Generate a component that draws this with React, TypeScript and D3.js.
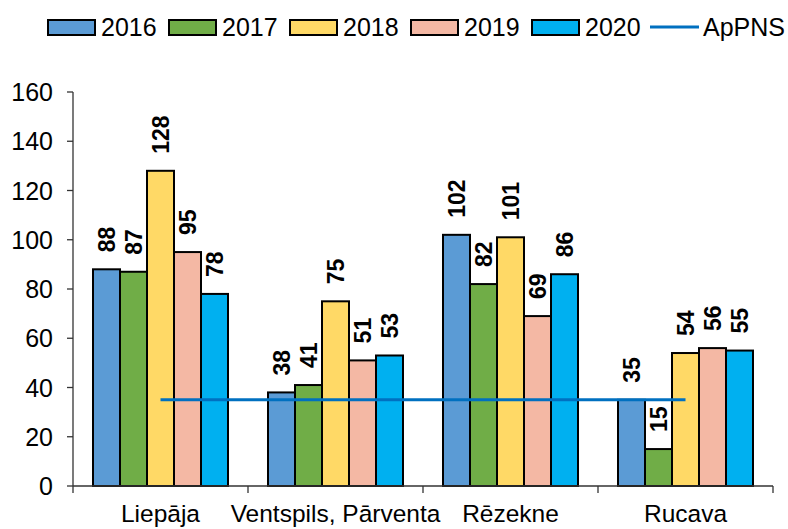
import React from "react";
import * as d3 from "d3";

const categories = ["Liepāja", "Ventspils, Pārventa", "Rēzekne", "Rucava"];
const years = ["2016", "2017", "2018", "2019", "2020"];
const values2016 = [88, 38, 102, 35];
const values2017 = [87, 41, 82, 15];
const values2018 = [128, 75, 101, 54];
const values2019 = [95, 51, 69, 56];
const values2020 = [78, 53, 86, 55];
const apPNS = [35, 35, 35, 35];
const yTicks = [0, 20, 40, 60, 80, 100, 120, 140, 160];
const colors = ["#5B9BD5", "#70AD47", "#FFD966", "#F4B8A4", "#00B0F0"];
const lineColor = "#0070C0";

const series = [values2016, values2017, values2018, values2019, values2020];

const W = 788;
const H = 529;
const FONT = "'Liberation Sans', Arial, Helvetica, sans-serif";

export default function App() {
  const x0 = 73;
  const x1 = 773;
  const y = d3.scaleLinear().domain([0, 160]).range([486, 92]);
  const xBand = d3.scaleBand<string>().domain(categories).range([x0, x1]).padding(0);
  const groupW = 135;
  const xInner = d3.scaleBand<string>().domain(years).range([0, groupW]).padding(0);
  const groupOffset = (xBand.bandwidth() - groupW) / 2;

  const line = d3
    .line<number>()
    .x((_, i) => (xBand(categories[i]) as number) + xBand.bandwidth() / 2)
    .y((d) => y(d));

  const boundaries = [...categories.map((c) => xBand(c) as number), x1];

  return (
    <svg
      width={W}
      height={H}
      style={{ position: "absolute", left: 0, top: 0, background: "#fff" }}
      fontFamily={FONT}
    >
      <rect x={0} y={0} width={W} height={H} fill="#fff" />
      {/* Legend */}
      {years.map((yr, i) => {
        const sx = 48 + 121 * i;
        return (
          <g key={yr}>
            <rect x={sx} y={20} width={47} height={15} fill={colors[i]} stroke="#000" strokeWidth={2} />
            <text x={sx + 53} y={36} fontSize={25} fill="#000">
              {yr}
            </text>
          </g>
        );
      })}
      <line x1={650} x2={699} y1={27} y2={27} stroke={lineColor} strokeWidth={3} />
      <text x={703} y={36} fontSize={25} fill="#000">
        ApPNS
      </text>

      {/* Y axis */}
      <line x1={x0} x2={x0} y1={y(160)} y2={y(0)} stroke="#333" strokeWidth={1.3} />
      {yTicks.map((t) => (
        <g key={t}>
          <line x1={x0 - 6} x2={x0} y1={y(t)} y2={y(t)} stroke="#333" strokeWidth={1.3} />
          <text x={53} y={y(t)} dy="0.36em" textAnchor="end" fontSize={25} fill="#000">
            {t}
          </text>
        </g>
      ))}

      {/* Bars */}
      {categories.map((c, ci) => (
        <g key={c} transform={`translate(${(xBand(c) as number) + groupOffset},0)`}>
          {series.map((vals, si) => {
            const bx = xInner(years[si]) as number;
            const v = vals[ci];
            return (
              <rect
                key={si}
                x={bx}
                y={y(v)}
                width={xInner.bandwidth()}
                height={y(0) - y(v)}
                fill={colors[si]}
                stroke="#000"
                strokeWidth={2}
              />
            );
          })}
        </g>
      ))}

      {/* X axis */}
      <line x1={x0} x2={x1} y1={y(0)} y2={y(0)} stroke="#333" strokeWidth={1.3} />
      {boundaries.map((b, i) => (
        <line key={i} x1={b} x2={b} y1={y(0)} y2={y(0) + 7} stroke="#333" strokeWidth={1.3} />
      ))}

      {/* ApPNS line */}
      <path d={line(apPNS) || ""} fill="none" stroke={lineColor} strokeWidth={3} />

      {/* Value labels */}
      {categories.map((c, ci) => (
        <g key={c + "l"} transform={`translate(${(xBand(c) as number) + groupOffset},0)`}>
          {series.map((vals, si) => {
            const cx = (xInner(years[si]) as number) + xInner.bandwidth() / 2;
            const v = vals[ci];
            return (
              <text
                key={si}
                transform={`translate(${cx + 8},${y(v) - 17}) rotate(-90)`}
                fontSize={23}
                fontWeight="bold"
                fill="#000"
              >
                {v}
              </text>
            );
          })}
        </g>
      ))}

      {/* Category labels */}
      {categories.map((c) => (
        <text
          key={c + "x"}
          x={(xBand(c) as number) + xBand.bandwidth() / 2}
          y={522}
          textAnchor="middle"
          fontSize={24.5}
          fill="#000"
        >
          {c}
        </text>
      ))}
    </svg>
  );
}
